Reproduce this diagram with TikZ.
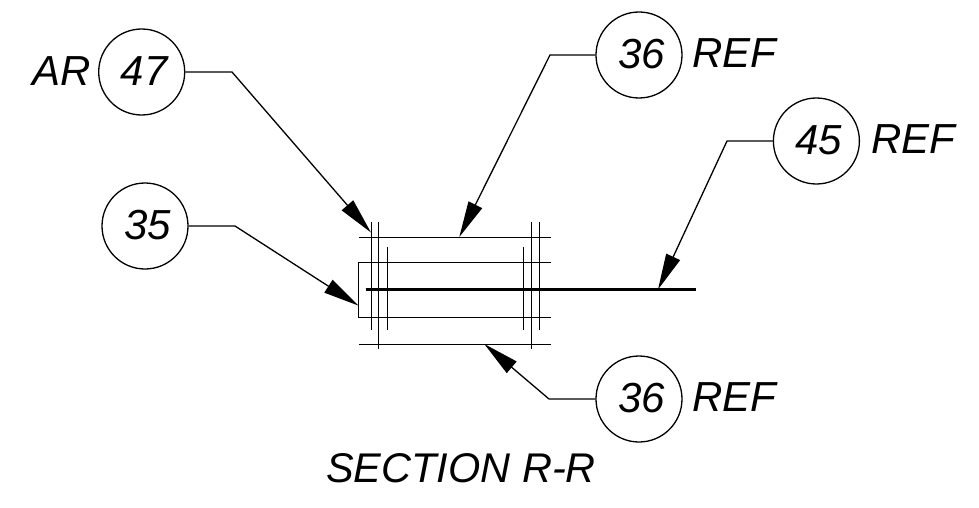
\documentclass[tikz,border=0pt]{standalone}
\usepackage{fontspec}
\setmainfont{Liberation Sans}
\usetikzlibrary{arrows.meta}
\tikzset{
  x=1pt,y=-1pt,
  balloon/.style={draw,circle,line width=1.3pt,minimum size=86pt,inner sep=0pt,text depth=2pt,font=\fontsize{42}{42}\selectfont\itshape,execute at begin node={\hspace*{5pt}}},
  lbl/.style={inner sep=0pt,font=\fontsize{42}{42}\selectfont\itshape},
  leader/.style={line width=1.3pt,-{Triangle[length=36pt,width=15pt]}},
  part/.style={line width=1.5pt},
  sheet/.style={line width=2.6pt}
}
\begin{document}
\begin{tikzpicture}
\useasboundingbox (0,0) rectangle (979,508);
% balloons
\node[balloon] (b47) at (141.7,72) {47};
\node[balloon] (b35) at (145,226) {35};
\node[balloon] (b36a) at (639,55) {36};
\node[balloon] (b45) at (816.4,141) {45};
\node[balloon] (b36b) at (639,399) {36};
% labels
\node[lbl] (tAR) at (62,71) {AR};
\node[lbl] (tREFa) at (734,53.5) {REF};
\node[lbl] (tREFb) at (913.5,139.5) {REF};
\node[lbl] (tREFc) at (734,397.5) {REF};
\node[lbl,font=\fontsize{41.5}{42}\selectfont\itshape] (title) at (461,468.5) {SECTION R-R};
% part lines
\coordinate (h1l) at (358.7,237.5);   \coordinate (h1r) at (551,237.5);
\coordinate (h2l) at (358.7,262.5); \coordinate (h2r) at (551,262.5);
\coordinate (h3l) at (358.7,317.5); \coordinate (h3r) at (551,317.5);
\coordinate (h4l) at (358.7,344.5);   \coordinate (h4r) at (551,344.5);
\draw[part] (h1l) -- (h1r);
\draw[part] (h2r) -- (h2l) -- (h3l) -- (h3r);
\draw[part] (h4l) -- (h4r);
\draw[part] (371.5,222.3) -- (371.5,330);
\draw[part] (378.5,222.3) -- (378.5,349.3);
\draw[part] (387.5,247.3) -- (387.5,330);
\draw[part] (523.5,247.3) -- (523.5,330);
\draw[part] (531.5,222.3) -- (531.5,349.3);
\draw[part] (539.5,222.3) -- (539.5,330);
\coordinate (s1) at (365.5,289.5); \coordinate (s2) at (696,289.5);
\draw[sheet] (s1) -- (s2);
% leaders
\coordinate (k47) at (232,72);   \coordinate (t47) at (371,232.5);
\coordinate (k35) at (235,226);  \coordinate (t35) at (358.7,305.7);
\coordinate (k36a) at (550,55);  \coordinate (t36a) at (459.3,237);
\coordinate (k45) at (727,141);  \coordinate (t45) at (658,289.5);
\coordinate (k36b) at (549,399); \coordinate (t36b) at (484.3,344);
\draw[leader] (b47.east) -- (k47) -- (t47);
\draw[leader] (b35.east) -- (k35) -- (t35);
\draw[leader] (b36a.west) -- (k36a) -- (t36a);
\draw[leader] (b45.west) -- (k45) -- (t45);
\draw[leader] (b36b.west) -- (k36b) -- (t36b);
\end{tikzpicture}
\end{document}
